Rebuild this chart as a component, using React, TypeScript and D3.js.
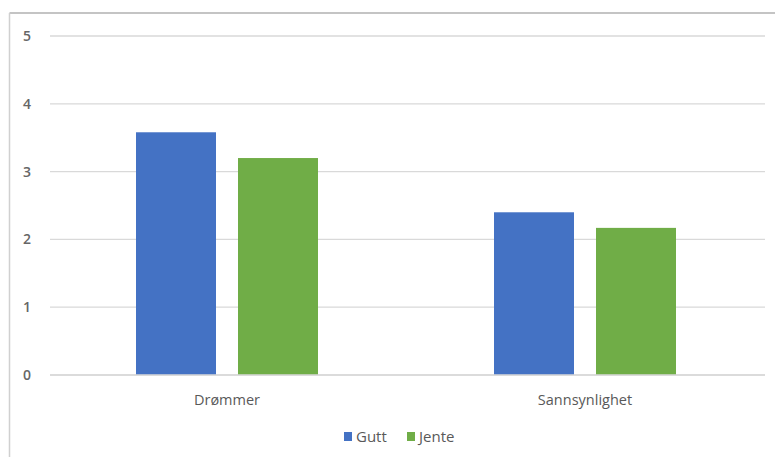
import React from "react";
import * as d3 from "d3";

const categories = ["Drømmer", "Sannsynlighet"];
const seriesNames = ["Gutt", "Jente"];
const gutt = [3.58, 2.4];
const jente = [3.2, 2.17];
const yTicks = [0, 1, 2, 3, 4, 5];
const colors = ["#4472C4", "#70AD47"];

const W = 775;
const H = 457;
const plotLeft = 50;
const plotRight = 765;
const plotTop = 36;
const plotBottom = 375;

export default function App() {
  const x = d3.scaleBand<string>().domain(categories).range([plotLeft - 2, plotRight - 1]).paddingInner(0).paddingOuter(0);
  const y = d3.scaleLinear().domain([0, 5]).range([plotBottom, plotTop]);
  const barW = 80;
  const gap = 22;
  const inner = d3.scaleBand<string>().domain(seriesNames).range([0, barW * 2 + gap]).paddingInner(gap / (barW + gap)).paddingOuter(0);
  const values = [gutt, jente];
  const font = "'Open Sans', 'Noto Sans', sans-serif";
  return (
    <svg width={W} height={H} style={{ position: "absolute", left: 0, top: 0, background: "#fff" }} fontFamily={font}>
      <line x1={9.5} x2={W} y1={13} y2={13} stroke="#c4c4c4" strokeWidth={2} />
      <line x1={9.5} x2={9.5} y1={13} y2={H} stroke="#d0d0d0" strokeWidth={1.5} />
      {yTicks.map((t) => (
        <g key={t}>
          <line x1={plotLeft} x2={plotRight} y1={y(t)} y2={y(t)} stroke="#d9d9d9" strokeWidth={1.3} />
          <text x={27} y={y(t)} dy="0.36em" textAnchor="middle" fontSize={14} fontWeight={600} fill="#666">{t}</text>
        </g>
      ))}
      {categories.map((c, ci) => {
        const groupW = barW * 2 + gap;
        const x0 = (x(c) as number) + x.bandwidth() / 2 - groupW / 2;
        return (
          <g key={c}>
            {seriesNames.map((s, si) => (
              <rect key={s} x={x0 + (inner(s) as number)} width={inner.bandwidth()} y={y(values[si][ci])} height={y(0) - y(values[si][ci])} fill={colors[si]} />
            ))}
            <text x={(x(c) as number) + x.bandwidth() / 2} y={405} textAnchor="middle" fontSize={14.5} fill="#595959">{c}</text>
          </g>
        );
      })}
      <line x1={plotLeft} x2={plotRight} y1={y(0)} y2={y(0)} stroke="#d9d9d9" strokeWidth={1.3} />
      <g>
        <rect x={344} y={432} width={8} height={9} fill={colors[0]} />
        <text x={356} y={442} fontSize={15} fill="#595959">{seriesNames[0]}</text>
        <rect x={407} y={432} width={8} height={9} fill={colors[1]} />
        <text x={419} y={442} fontSize={15} fill="#595959">{seriesNames[1]}</text>
      </g>
    </svg>
  );
}
